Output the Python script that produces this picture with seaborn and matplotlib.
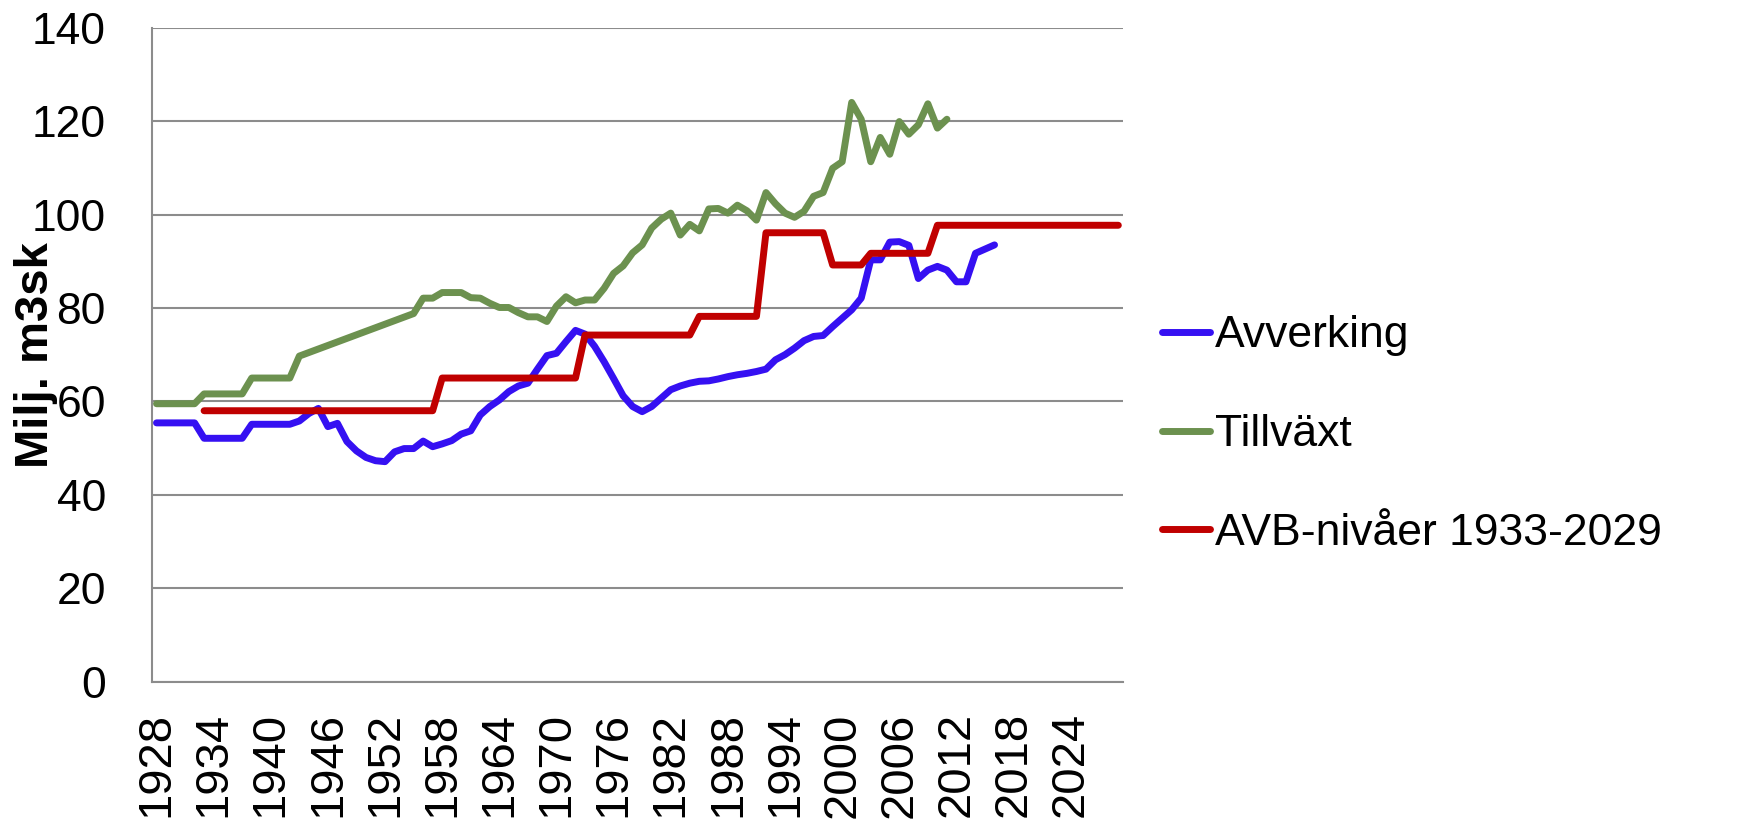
import numpy as np
import pandas as pd
import seaborn as sns
import matplotlib
matplotlib.use("Agg")
import matplotlib.pyplot as plt

# Avverking (felling), 1928-2016
avv_years = list(range(1928, 2017))
avv_values = [55.4, 55.4, 55.4, 55.4, 55.4, 52.1, 52.1, 52.1, 52.1, 52.1,
              55.1, 55.1, 55.1, 55.1, 55.1, 55.8, 57.4, 58.5, 54.6, 55.3,
              51.4, 49.4, 48.0, 47.3, 47.1, 49.2, 49.9, 49.9, 51.5, 50.3,
              50.9, 51.6, 53.0, 53.7, 57.1, 58.9, 60.3, 62.1, 63.3, 63.9,
              66.9, 69.8, 70.3, 72.8, 75.2, 74.4, 71.8, 68.5, 64.9, 61.2,
              58.9, 57.8, 58.9, 60.7, 62.5, 63.3, 63.9, 64.3, 64.4, 64.8,
              65.3, 65.7, 66.0, 66.4, 66.9, 68.9, 70.0, 71.4, 73.0, 73.9,
              74.1, 76.0, 77.8, 79.6, 82.1, 90.3, 90.3, 94.1, 94.2, 93.4,
              86.3, 88.1, 88.9, 88.1, 85.6, 85.6, 91.7, 92.6, 93.5]

# Tillväxt (growth), no values 1944-1954
till_years = list(range(1928, 1944)) + list(range(1955, 2012))
till_values = [59.5, 59.5, 59.5, 59.5, 59.5, 61.6, 61.6, 61.6, 61.6, 61.6,
               65.0, 65.0, 65.0, 65.0, 65.0, 69.7,
               78.8, 82.1, 82.1, 83.3, 83.3, 83.3, 82.2, 82.1, 81.0, 80.1,
               80.1, 79.0, 78.1, 78.1, 77.1, 80.4, 82.4, 81.1, 81.7, 81.7,
               84.2, 87.4, 89.0, 91.8, 93.5, 97.1, 99.0, 100.3, 95.6, 97.9,
               96.5, 101.2, 101.3, 100.3, 102.0, 100.8, 98.8, 104.7, 102.3, 100.3,
               99.4, 100.7, 103.9, 104.7, 109.9, 111.3, 124.0, 120.4, 111.3, 116.5,
               112.9, 119.9, 117.2, 119.2, 123.7, 118.5, 120.4]

# AVB-nivåer: level periods (first year of each period), last year 2029
avb_start = [1933, 1958, 1973, 1985, 1992, 1999, 2003, 2010]
avb_level = [58.0, 65.0, 74.2, 78.2, 96.1, 89.2, 91.7, 97.7]
avb_end = 2029

x_ticks = list(range(1928, 2025, 6))
y_ticks = list(range(0, 141, 20))

labels = ["Avverking", "Tillväxt", "AVB-nivåer 1933-2029"]
colors = ["#3510F2", "#6C914F", "#C00000"]

avb_years = list(range(avb_start[0], avb_end + 1))
counts = np.diff(avb_start + [avb_end + 1])
avb_values = list(np.repeat(avb_level, counts))

df = pd.concat([
    pd.DataFrame({"year": avv_years, "value": avv_values, "serie": labels[0]}),
    pd.DataFrame({"year": till_years, "value": till_values, "serie": labels[1]}),
    pd.DataFrame({"year": avb_years, "value": avb_values, "serie": labels[2]}),
])

sns.set_style("white")
plt.rcParams["font.family"] = ["Liberation Sans", "DejaVu Sans"]
plt.rcParams["text.color"] = "black"
plt.rcParams["xtick.color"] = "black"
plt.rcParams["ytick.color"] = "black"
plt.rcParams["axes.labelcolor"] = "black"

fig = plt.figure(figsize=(17.38, 8.21), dpi=100)
ax = fig.add_axes([0.0873, 0.1697, 0.5589, 0.7966])

sns.lineplot(data=df, x="year", y="value", hue="serie", hue_order=labels,
             palette=colors, ax=ax, sort=True, estimator=None)
for line in ax.lines:
    line.set_linewidth(5)
    line.set_solid_capstyle("round")
    line.set_solid_joinstyle("round")

grey = "#8C8C8C"
ax.set_xlim(1927.5, 2029.5)
ax.set_ylim(0, 140)
ax.set_yticks(y_ticks)
ax.set_xticks(x_ticks)
ax.set_xticklabels([str(t) for t in x_ticks], rotation=90, fontsize=34)
ax.set_yticklabels([str(t) for t in y_ticks], fontsize=32)
ax.tick_params(axis="y", length=0, pad=33, colors="black")
ax.tick_params(axis="x", length=0, pad=22, colors="black")
ax.yaxis.grid(True, color=grey, linewidth=1.5)
ax.xaxis.grid(False)
ax.set_axisbelow(True)
for side in ["top", "right"]:
    ax.spines[side].set_visible(False)
for side in ["left", "bottom"]:
    ax.spines[side].set_color(grey)
    ax.spines[side].set_linewidth(1.5)

ax.set_xlabel("")
ax.set_ylabel("Milj. m3sk", fontsize=34, fontweight="bold", color="black")
ax.yaxis.set_label_coords(-0.097, 0.5)

handles, _ = ax.get_legend_handles_labels()
for h in handles:
    h.set_linewidth(5)
    h.set_solid_capstyle("round")
leg = ax.legend(handles=handles, labels=labels, loc="center left",
                bbox_to_anchor=(0.6686, 0.4706), bbox_transform=fig.transFigure,
                frameon=False, fontsize=32, borderpad=0, borderaxespad=0,
                handlelength=1.08, handletextpad=0.12, labelspacing=1.3)
for t in leg.get_texts():
    t.set_color("black")

fig.savefig("out.png", dpi=100)
